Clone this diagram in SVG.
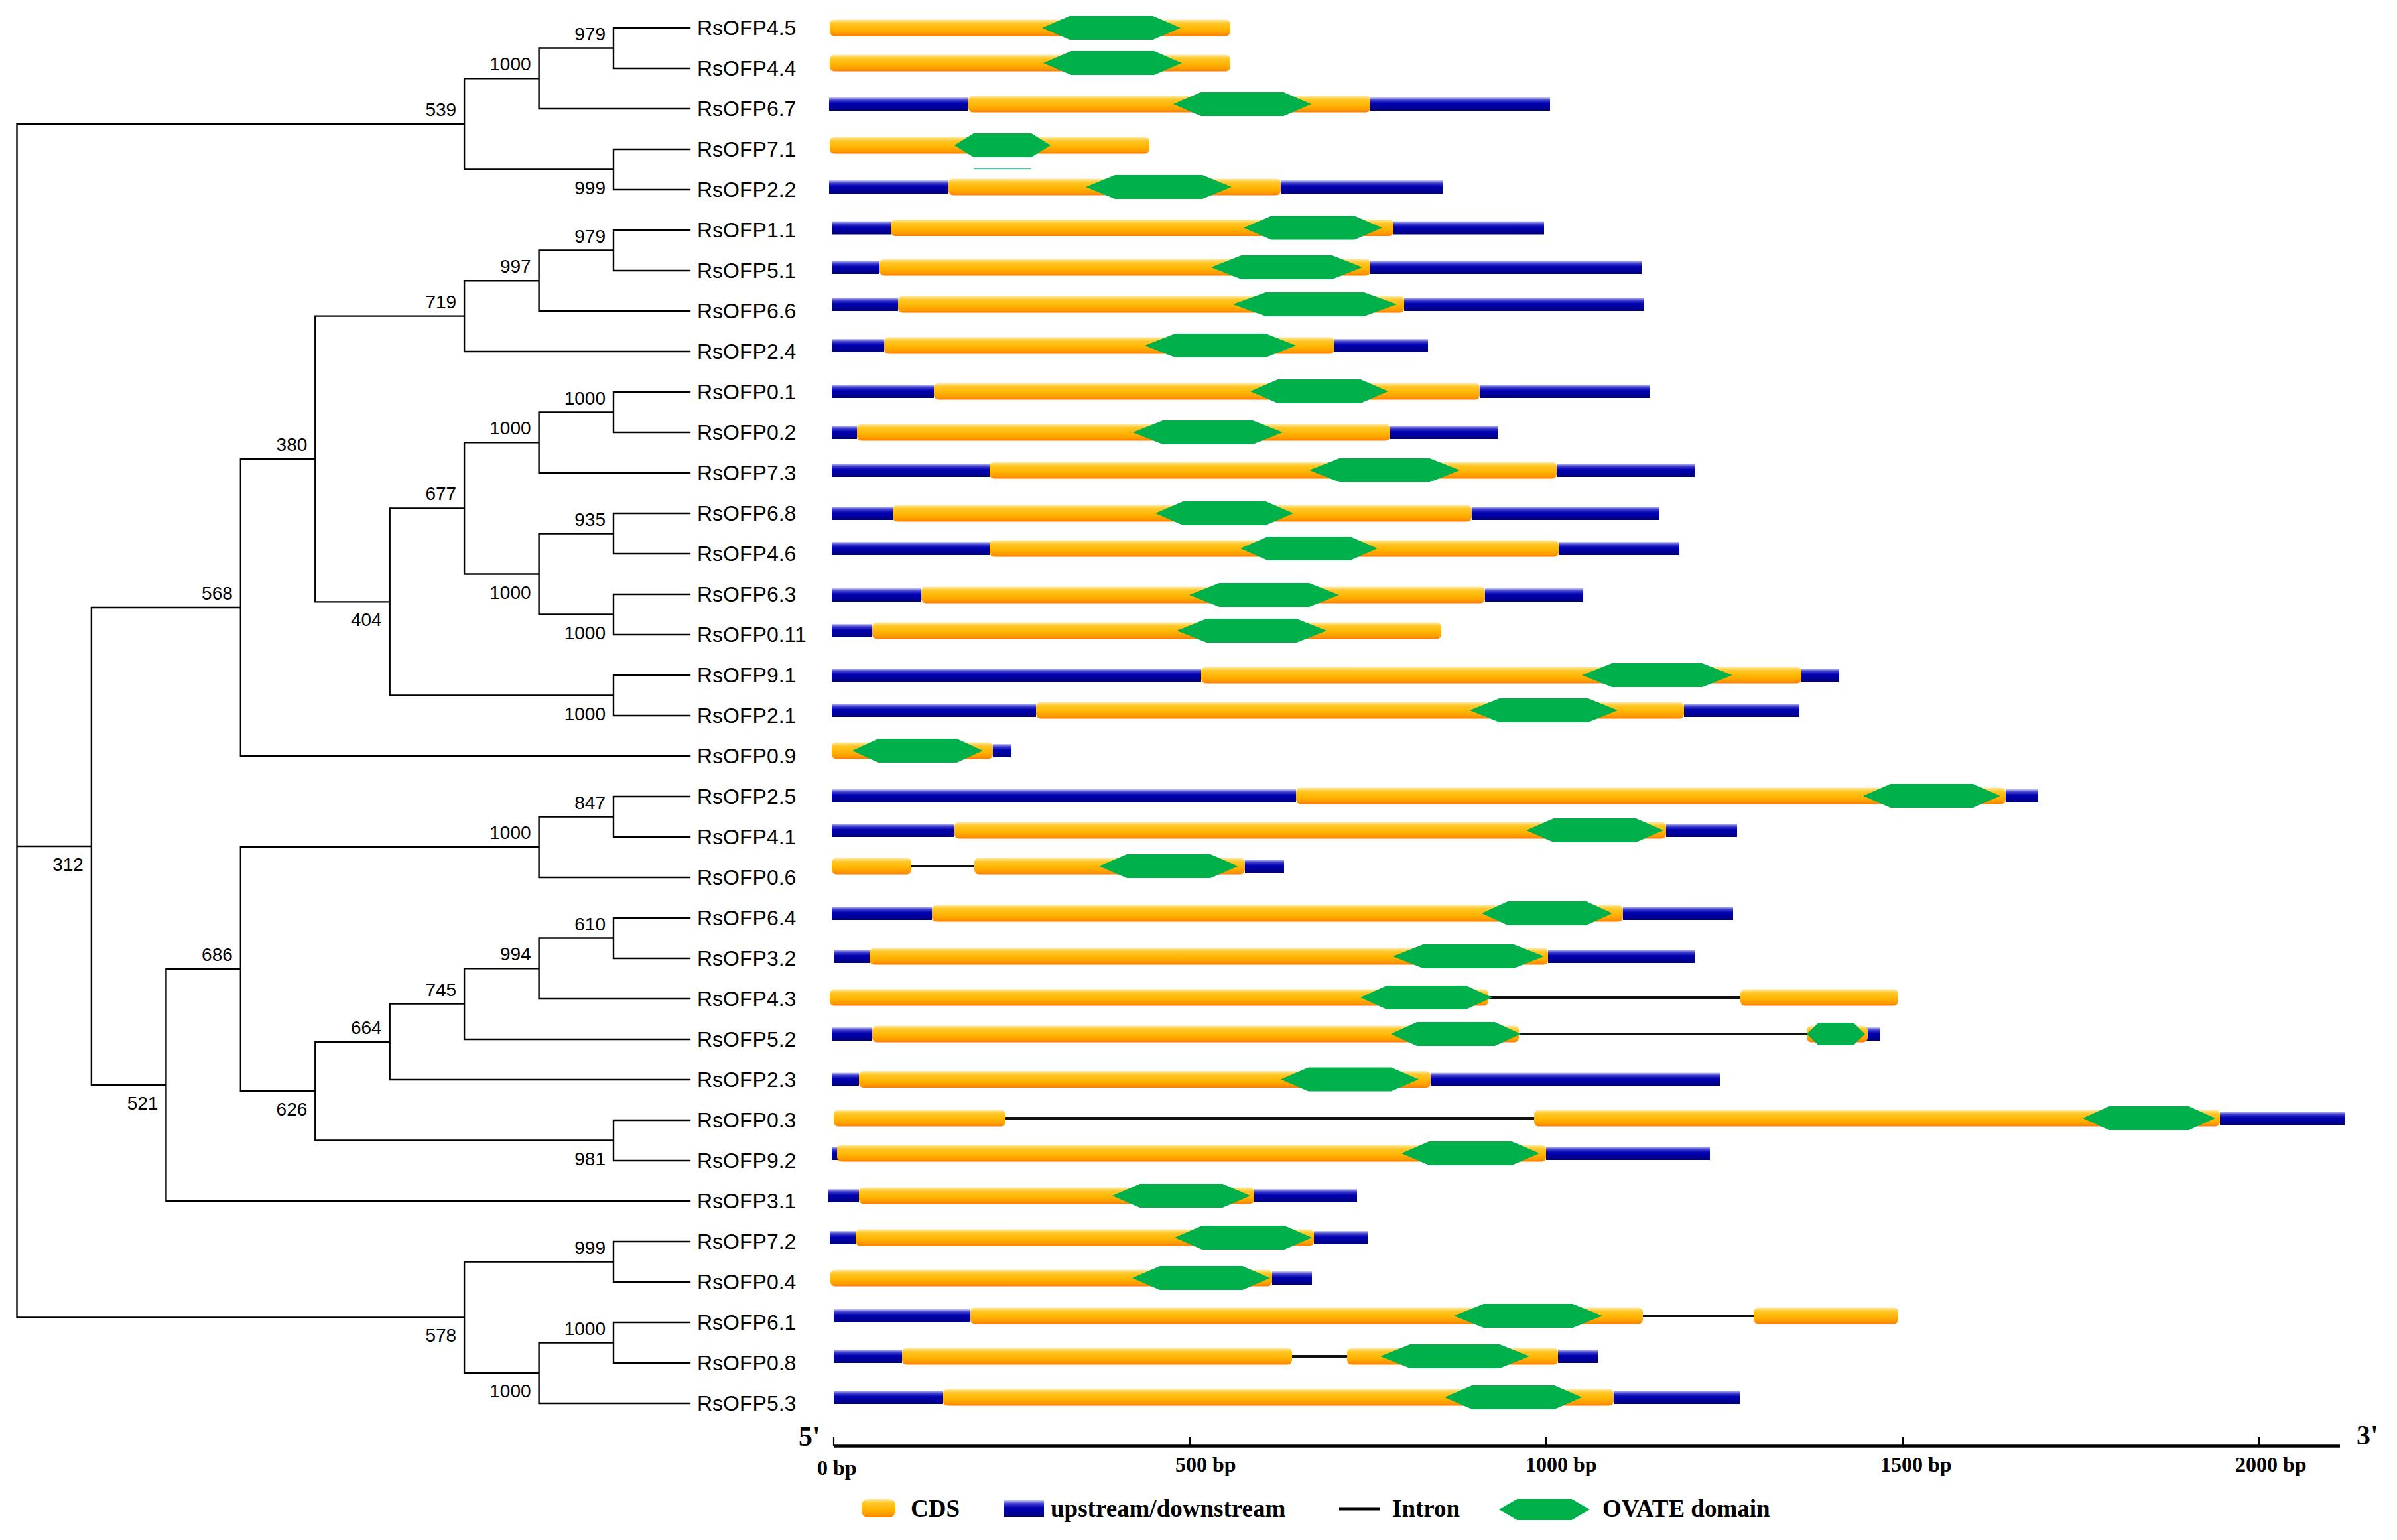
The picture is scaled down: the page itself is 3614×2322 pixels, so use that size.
<svg xmlns="http://www.w3.org/2000/svg" xmlns:xlink="http://www.w3.org/1999/xlink" width="3614" height="2322" viewBox="0 0 3614 2322">
<style>
.tree{stroke:#000;stroke-width:2.4;fill:none;stroke-linecap:square}
.lab{font-family:"Liberation Sans",Arial,sans-serif;font-size:32px;fill:#000}
.bs{font-family:"Liberation Sans",Arial,sans-serif;font-size:28px;fill:#000;text-anchor:end}
.cds{fill:url(#gC)}
.up{fill:url(#gB)}
.hx{fill:#00B04B}
.intr{stroke:#111;stroke-width:4}
.ser{font-family:"Liberation Serif","Times New Roman",serif;font-weight:bold;fill:#000}
.axl{font-size:32px}
.lg{font-size:37px}
</style>
<defs>
<linearGradient id="gC" x1="0" y1="0" x2="0" y2="1">
<stop offset="0" stop-color="#FFEAA8"/>
<stop offset="0.22" stop-color="#FFC828"/>
<stop offset="0.6" stop-color="#FFB300"/>
<stop offset="0.85" stop-color="#FF9A00"/>
<stop offset="1" stop-color="#FF7A00"/>
</linearGradient>
<linearGradient id="gB" x1="0" y1="0" x2="0" y2="1">
<stop offset="0" stop-color="#C8C8F2"/>
<stop offset="0.2" stop-color="#4040D0"/>
<stop offset="0.45" stop-color="#0000B0"/>
<stop offset="0.75" stop-color="#00009A"/>
<stop offset="1" stop-color="#000075"/>
</linearGradient>
<polygon id="hex" points="0,0.5 0.2,0 0.8,0 1,0.5 0.8,1 0.2,1"/>
</defs>
<rect width="3614" height="2322" fill="#fff"/>

<g id="connectors">
<path class="tree" d="M25.5 186.9V1986.4M25.5 186.9H700.1M25.5 1276H137.9M25.5 1986.4H700.1
M700.1 118.25V255.5M700.1 118.25H812.6M700.1 255.5H925
M812.6 72.5V164M812.6 72.5H925M812.6 164H1040
M925 42V103M925 42H1040M925 103H1040
M925 225V286M925 225H1040M925 286H1040
M137.9 916V1636.1M137.9 916H362.8M137.9 1636.1H250.4
M362.8 692V1140M362.8 692H475.3M362.8 1140H1040
M475.3 476.6V907.4M475.3 476.6H700.1M475.3 907.4H587.7
M700.1 423.25V530M700.1 423.25H812.6M700.1 530H1040
M812.6 377.5V469M812.6 377.5H925M812.6 469H1040
M925 347V408M925 347H1040M925 408H1040
M587.7 766.4V1048.5M587.7 766.4H700.1M587.7 1048.5H925
M700.1 667.25V865.5M700.1 667.25H812.6M700.1 865.5H812.6
M812.6 621.5V713M812.6 621.5H925M812.6 713H1040
M925 591V652M925 591H1040M925 652H1040
M812.6 804.5V926.5M812.6 804.5H925M812.6 926.5H925
M925 774V835M925 774H1040M925 835H1040
M925 896V957M925 896H1040M925 957H1040
M925 1018V1079M925 1018H1040M925 1079H1040
M250.4 1461.2V1811M250.4 1461.2H362.8M250.4 1811H1040
M362.8 1277.25V1645.2M362.8 1277.25H812.6M362.8 1645.2H475.3
M812.6 1231.5V1323M812.6 1231.5H925M812.6 1323H1040
M925 1201V1262M925 1201H1040M925 1262H1040
M475.3 1570.8V1719.5M475.3 1570.8H587.7M475.3 1719.5H925
M587.7 1513.6V1628M587.7 1513.6H700.1M587.7 1628H1040
M700.1 1460.25V1567M700.1 1460.25H812.6M700.1 1567H1040
M812.6 1414.5V1506M812.6 1414.5H925M812.6 1506H1040
M925 1384V1445M925 1384H1040M925 1445H1040
M925 1689V1750M925 1689H1040M925 1750H1040
M700.1 1902.5V2070.25M700.1 1902.5H925M700.1 2070.25H812.6
M925 1872V1933M925 1872H1040M925 1933H1040
M812.6 2024.5V2116M812.6 2024.5H925M812.6 2116H1040
M925 1994V2055M925 1994H1040M925 2055H1040"/>
</g>

<g id="bootstrap">
<g id="n979a"><text class="bs" x="913" y="60.5">979</text></g>
<g id="n1000a"><text class="bs" x="800.6" y="106.25">1000</text></g>
<g id="n539"><text class="bs" x="688.1" y="174.9">539</text></g>
<g id="n999a"><text class="bs" x="913" y="292.5">999</text></g>
<g id="n312"><text class="bs" x="125.9" y="1313">312</text></g>
<g id="n568"><text class="bs" x="350.8" y="904">568</text></g>
<g id="n380"><text class="bs" x="463.3" y="680">380</text></g>
<g id="n719"><text class="bs" x="688.1" y="464.6">719</text></g>
<g id="n997"><text class="bs" x="800.6" y="411.25">997</text></g>
<g id="n979b"><text class="bs" x="913" y="365.5">979</text></g>
<g id="n404"><text class="bs" x="575.7" y="944.4">404</text></g>
<g id="n677"><text class="bs" x="688.1" y="754.4">677</text></g>
<g id="n1000d"><text class="bs" x="800.6" y="655.25">1000</text></g>
<g id="n1000c"><text class="bs" x="913" y="609.5">1000</text></g>
<g id="n1000f"><text class="bs" x="800.6" y="902.5">1000</text></g>
<g id="n935"><text class="bs" x="913" y="792.5">935</text></g>
<g id="n1000e"><text class="bs" x="913" y="963.5">1000</text></g>
<g id="n1000g"><text class="bs" x="913" y="1085.5">1000</text></g>
<g id="n521"><text class="bs" x="238.4" y="1673">521</text></g>
<g id="n686"><text class="bs" x="350.8" y="1449.2">686</text></g>
<g id="n1000h"><text class="bs" x="800.6" y="1265.25">1000</text></g>
<g id="n847"><text class="bs" x="913" y="1219.5">847</text></g>
<g id="n626"><text class="bs" x="463.3" y="1682">626</text></g>
<g id="n664"><text class="bs" x="575.7" y="1558.8">664</text></g>
<g id="n745"><text class="bs" x="688.1" y="1501.6">745</text></g>
<g id="n994"><text class="bs" x="800.6" y="1448.25">994</text></g>
<g id="n610"><text class="bs" x="913" y="1402.5">610</text></g>
<g id="n981"><text class="bs" x="913" y="1756.5">981</text></g>
<g id="n578"><text class="bs" x="688.1" y="2023.4">578</text></g>
<g id="n999b"><text class="bs" x="913" y="1890.5">999</text></g>
<g id="n1000j"><text class="bs" x="800.6" y="2107">1000</text></g>
<g id="n1000i"><text class="bs" x="913" y="2012.5">1000</text></g>
</g>

<g id="leaf-RsOFP4.5"><text class="lab" x="1051" y="53">RsOFP4.5</text>
<g transform="translate(0 42)"><rect class="cds" x="1251" y="-12.5" width="604" height="25" rx="7"/><use xlink:href="#hex" class="hx" transform="translate(1571 -18) scale(209 36)"/></g></g>
<g id="leaf-RsOFP4.4"><text class="lab" x="1051" y="114">RsOFP4.4</text>
<g transform="translate(0 95)"><rect class="cds" x="1251" y="-12.5" width="604" height="25" rx="7"/><use xlink:href="#hex" class="hx" transform="translate(1573 -18) scale(209 36)"/></g></g>
<g id="leaf-RsOFP6.7"><text class="lab" x="1051" y="175">RsOFP6.7</text>
<g transform="translate(0 157)"><rect class="up" x="1250" y="-10" width="210" height="20"/><rect class="up" x="2066" y="-10" width="271" height="20"/><rect class="cds" x="1460" y="-12.5" width="606" height="25" rx="7"/><use xlink:href="#hex" class="hx" transform="translate(1769 -18) scale(208 36)"/></g></g>
<g id="leaf-RsOFP7.1"><text class="lab" x="1051" y="236">RsOFP7.1</text>
<g transform="translate(0 219)"><rect class="cds" x="1251" y="-12.5" width="482" height="25" rx="7"/><use xlink:href="#hex" class="hx" transform="translate(1439 -18) scale(145 36)"/><line x1="1468" y1="35.5" x2="1555" y2="35.5" stroke="#4CC9B0" stroke-width="1.6"/></g></g>
<g id="leaf-RsOFP2.2"><text class="lab" x="1051" y="297">RsOFP2.2</text>
<g transform="translate(0 282)"><rect class="up" x="1250" y="-10" width="180" height="20"/><rect class="up" x="1931" y="-10" width="244" height="20"/><rect class="cds" x="1430" y="-12.5" width="501" height="25" rx="7"/><use xlink:href="#hex" class="hx" transform="translate(1637 -18) scale(220 36)"/></g></g>
<g id="leaf-RsOFP1.1"><text class="lab" x="1051" y="358">RsOFP1.1</text>
<g transform="translate(0 343.5)"><rect class="up" x="1255" y="-10" width="88" height="20"/><rect class="up" x="2101" y="-10" width="227" height="20"/><rect class="cds" x="1343" y="-12.5" width="758" height="25" rx="7"/><use xlink:href="#hex" class="hx" transform="translate(1875 -18) scale(209 36)"/></g></g>
<g id="leaf-RsOFP5.1"><text class="lab" x="1051" y="419">RsOFP5.1</text>
<g transform="translate(0 403)"><rect class="up" x="1255" y="-10" width="71" height="20"/><rect class="up" x="2066" y="-10" width="409" height="20"/><rect class="cds" x="1326" y="-12.5" width="740" height="25" rx="7"/><use xlink:href="#hex" class="hx" transform="translate(1826 -18) scale(228 36)"/></g></g>
<g id="leaf-RsOFP6.6"><text class="lab" x="1051" y="480">RsOFP6.6</text>
<g transform="translate(0 459)"><rect class="up" x="1255" y="-10" width="99" height="20"/><rect class="up" x="2117" y="-10" width="362" height="20"/><rect class="cds" x="1354" y="-12.5" width="763" height="25" rx="7"/><use xlink:href="#hex" class="hx" transform="translate(1859 -18) scale(247 36)"/></g></g>
<g id="leaf-RsOFP2.4"><text class="lab" x="1051" y="541">RsOFP2.4</text>
<g transform="translate(0 521)"><rect class="up" x="1255" y="-10" width="78" height="20"/><rect class="up" x="2012" y="-10" width="141" height="20"/><rect class="cds" x="1333" y="-12.5" width="679" height="25" rx="7"/><use xlink:href="#hex" class="hx" transform="translate(1726 -18) scale(228 36)"/></g></g>
<g id="leaf-RsOFP0.1"><text class="lab" x="1051" y="602">RsOFP0.1</text>
<g transform="translate(0 590)"><rect class="up" x="1254" y="-10" width="154" height="20"/><rect class="up" x="2231" y="-10" width="257" height="20"/><rect class="cds" x="1408" y="-12.5" width="823" height="25" rx="7"/><use xlink:href="#hex" class="hx" transform="translate(1885 -18) scale(208 36)"/></g></g>
<g id="leaf-RsOFP0.2"><text class="lab" x="1051" y="663">RsOFP0.2</text>
<g transform="translate(0 652)"><rect class="up" x="1254" y="-10" width="38" height="20"/><rect class="up" x="2096" y="-10" width="163" height="20"/><rect class="cds" x="1292" y="-12.5" width="804" height="25" rx="7"/><use xlink:href="#hex" class="hx" transform="translate(1708 -18) scale(226 36)"/></g></g>
<g id="leaf-RsOFP7.3"><text class="lab" x="1051" y="724">RsOFP7.3</text>
<g transform="translate(0 709)"><rect class="up" x="1254" y="-10" width="238" height="20"/><rect class="up" x="2347" y="-10" width="208" height="20"/><rect class="cds" x="1492" y="-12.5" width="855" height="25" rx="7"/><use xlink:href="#hex" class="hx" transform="translate(1974 -18) scale(227 36)"/></g></g>
<g id="leaf-RsOFP6.8"><text class="lab" x="1051" y="785">RsOFP6.8</text>
<g transform="translate(0 774)"><rect class="up" x="1254" y="-10" width="92" height="20"/><rect class="up" x="2219" y="-10" width="283" height="20"/><rect class="cds" x="1346" y="-12.5" width="873" height="25" rx="7"/><use xlink:href="#hex" class="hx" transform="translate(1742 -18) scale(208 36)"/></g></g>
<g id="leaf-RsOFP4.6"><text class="lab" x="1051" y="846">RsOFP4.6</text>
<g transform="translate(0 827)"><rect class="up" x="1254" y="-10" width="238" height="20"/><rect class="up" x="2350" y="-10" width="182" height="20"/><rect class="cds" x="1492" y="-12.5" width="858" height="25" rx="7"/><use xlink:href="#hex" class="hx" transform="translate(1870 -18) scale(207 36)"/></g></g>
<g id="leaf-RsOFP6.3"><text class="lab" x="1051" y="907">RsOFP6.3</text>
<g transform="translate(0 897)"><rect class="up" x="1254" y="-10" width="135" height="20"/><rect class="up" x="2239" y="-10" width="148" height="20"/><rect class="cds" x="1389" y="-12.5" width="850" height="25" rx="7"/><use xlink:href="#hex" class="hx" transform="translate(1793 -18) scale(226 36)"/></g></g>
<g id="leaf-RsOFP0.11"><text class="lab" x="1051" y="968">RsOFP0.11</text>
<g transform="translate(0 951)"><rect class="up" x="1254" y="-10" width="61" height="20"/><rect class="cds" x="1315" y="-12.5" width="858" height="25" rx="7"/><use xlink:href="#hex" class="hx" transform="translate(1774 -18) scale(226 36)"/></g></g>
<g id="leaf-RsOFP9.1"><text class="lab" x="1051" y="1029">RsOFP9.1</text>
<g transform="translate(0 1018)"><rect class="up" x="1254" y="-10" width="557" height="20"/><rect class="up" x="2716" y="-10" width="57" height="20"/><rect class="cds" x="1811" y="-12.5" width="905" height="25" rx="7"/><use xlink:href="#hex" class="hx" transform="translate(2385 -18) scale(227 36)"/></g></g>
<g id="leaf-RsOFP2.1"><text class="lab" x="1051" y="1090">RsOFP2.1</text>
<g transform="translate(0 1071)"><rect class="up" x="1254" y="-10" width="308" height="20"/><rect class="up" x="2539" y="-10" width="174" height="20"/><rect class="cds" x="1562" y="-12.5" width="977" height="25" rx="7"/><use xlink:href="#hex" class="hx" transform="translate(2216 -18) scale(223 36)"/></g></g>
<g id="leaf-RsOFP0.9"><text class="lab" x="1051" y="1151">RsOFP0.9</text>
<g transform="translate(0 1132)"><rect class="up" x="1497" y="-10" width="28" height="20"/><rect class="cds" x="1254" y="-12.5" width="243" height="25" rx="7"/><use xlink:href="#hex" class="hx" transform="translate(1285 -18) scale(197 36)"/></g></g>
<g id="leaf-RsOFP2.5"><text class="lab" x="1051" y="1212">RsOFP2.5</text>
<g transform="translate(0 1200)"><rect class="up" x="1254" y="-10" width="700" height="20"/><rect class="up" x="3024" y="-10" width="49" height="20"/><rect class="cds" x="1954" y="-12.5" width="1070" height="25" rx="7"/><use xlink:href="#hex" class="hx" transform="translate(2809 -18) scale(207 36)"/></g></g>
<g id="leaf-RsOFP4.1"><text class="lab" x="1051" y="1273">RsOFP4.1</text>
<g transform="translate(0 1252)"><rect class="up" x="1254" y="-10" width="185" height="20"/><rect class="up" x="2512" y="-10" width="107" height="20"/><rect class="cds" x="1439" y="-12.5" width="1073" height="25" rx="7"/><use xlink:href="#hex" class="hx" transform="translate(2301 -18) scale(207 36)"/></g></g>
<g id="leaf-RsOFP0.6"><text class="lab" x="1051" y="1334">RsOFP0.6</text>
<g transform="translate(0 1306)"><line class="intr" x1="1374" y1="0" x2="1469" y2="0"/><rect class="up" x="1877" y="-10" width="59" height="20"/><rect class="cds" x="1254" y="-12.5" width="120" height="25" rx="7"/><rect class="cds" x="1469" y="-12.5" width="408" height="25" rx="7"/><use xlink:href="#hex" class="hx" transform="translate(1657 -18) scale(210 36)"/></g></g>
<g id="leaf-RsOFP6.4"><text class="lab" x="1051" y="1395">RsOFP6.4</text>
<g transform="translate(0 1377)"><rect class="up" x="1254" y="-10" width="151" height="20"/><rect class="up" x="2447" y="-10" width="166" height="20"/><rect class="cds" x="1405" y="-12.5" width="1042" height="25" rx="7"/><use xlink:href="#hex" class="hx" transform="translate(2234 -18) scale(197 36)"/></g></g>
<g id="leaf-RsOFP3.2"><text class="lab" x="1051" y="1456">RsOFP3.2</text>
<g transform="translate(0 1442)"><rect class="up" x="1258" y="-10" width="53" height="20"/><rect class="up" x="2334" y="-10" width="221" height="20"/><rect class="cds" x="1311" y="-12.5" width="1023" height="25" rx="7"/><use xlink:href="#hex" class="hx" transform="translate(2100 -18) scale(228 36)"/></g></g>
<g id="leaf-RsOFP4.3"><text class="lab" x="1051" y="1517">RsOFP4.3</text>
<g transform="translate(0 1504)"><line class="intr" x1="2244" y1="0" x2="2624" y2="0"/><rect class="cds" x="1251" y="-12.5" width="993" height="25" rx="7"/><rect class="cds" x="2624" y="-12.5" width="238" height="25" rx="7"/><use xlink:href="#hex" class="hx" transform="translate(2051 -18) scale(199 36)"/></g></g>
<g id="leaf-RsOFP5.2"><text class="lab" x="1051" y="1578">RsOFP5.2</text>
<g transform="translate(0 1559)"><line class="intr" x1="2290" y1="0" x2="2724" y2="0"/><rect class="up" x="1254" y="-10" width="61" height="20"/><rect class="up" x="2814" y="-10" width="21" height="20"/><rect class="cds" x="1315" y="-12.5" width="975" height="25" rx="7"/><rect class="cds" x="2724" y="-12.5" width="92" height="25" rx="7"/><use xlink:href="#hex" class="hx" transform="translate(2097 -18) scale(196 36)"/><use xlink:href="#hex" class="hx" transform="translate(2724 -17) scale(88 34)"/></g></g>
<g id="leaf-RsOFP2.3"><text class="lab" x="1051" y="1639">RsOFP2.3</text>
<g transform="translate(0 1627.5)"><rect class="up" x="1254" y="-10" width="41" height="20"/><rect class="up" x="2157" y="-10" width="436" height="20"/><rect class="cds" x="1295" y="-12.5" width="862" height="25" rx="7"/><use xlink:href="#hex" class="hx" transform="translate(1931 -18) scale(208 36)"/></g></g>
<g id="leaf-RsOFP0.3"><text class="lab" x="1051" y="1700">RsOFP0.3</text>
<g transform="translate(0 1686)"><line class="intr" x1="1516" y1="0" x2="2313" y2="0"/><rect class="up" x="3347" y="-10" width="188" height="20"/><rect class="cds" x="1257" y="-12.5" width="259" height="25" rx="7"/><rect class="cds" x="2313" y="-12.5" width="1034" height="25" rx="7"/><use xlink:href="#hex" class="hx" transform="translate(3140 -18) scale(200 36)"/></g></g>
<g id="leaf-RsOFP9.2"><text class="lab" x="1051" y="1761">RsOFP9.2</text>
<g transform="translate(0 1739)"><rect class="up" x="1254" y="-10" width="10" height="20"/><rect class="up" x="2331" y="-10" width="247" height="20"/><rect class="cds" x="1262" y="-12.5" width="1069" height="25" rx="7"/><use xlink:href="#hex" class="hx" transform="translate(2113 -18) scale(208 36)"/></g></g>
<g id="leaf-RsOFP3.1"><text class="lab" x="1051" y="1822">RsOFP3.1</text>
<g transform="translate(0 1803)"><rect class="up" x="1249" y="-10" width="46" height="20"/><rect class="up" x="1891" y="-10" width="155" height="20"/><rect class="cds" x="1295" y="-12.5" width="596" height="25" rx="7"/><use xlink:href="#hex" class="hx" transform="translate(1677 -18) scale(208 36)"/></g></g>
<g id="leaf-RsOFP7.2"><text class="lab" x="1051" y="1883">RsOFP7.2</text>
<g transform="translate(0 1866)"><rect class="up" x="1251" y="-10" width="39" height="20"/><rect class="up" x="1981" y="-10" width="81" height="20"/><rect class="cds" x="1290" y="-12.5" width="691" height="25" rx="7"/><use xlink:href="#hex" class="hx" transform="translate(1771 -18) scale(207 36)"/></g></g>
<g id="leaf-RsOFP0.4"><text class="lab" x="1051" y="1944">RsOFP0.4</text>
<g transform="translate(0 1927)"><rect class="up" x="1918" y="-10" width="60" height="20"/><rect class="cds" x="1252" y="-12.5" width="666" height="25" rx="7"/><use xlink:href="#hex" class="hx" transform="translate(1707 -18) scale(208 36)"/></g></g>
<g id="leaf-RsOFP6.1"><text class="lab" x="1051" y="2005">RsOFP6.1</text>
<g transform="translate(0 1984)"><line class="intr" x1="2477" y1="0" x2="2644" y2="0"/><rect class="up" x="1257" y="-10" width="206" height="20"/><rect class="cds" x="1463" y="-12.5" width="1014" height="25" rx="7"/><rect class="cds" x="2644" y="-12.5" width="218" height="25" rx="7"/><use xlink:href="#hex" class="hx" transform="translate(2192 -18) scale(224 36)"/></g></g>
<g id="leaf-RsOFP0.8"><text class="lab" x="1051" y="2066">RsOFP0.8</text>
<g transform="translate(0 2045)"><line class="intr" x1="1948" y1="0" x2="2031" y2="0"/><rect class="up" x="1257" y="-10" width="103" height="20"/><rect class="up" x="2349" y="-10" width="60" height="20"/><rect class="cds" x="1360" y="-12.5" width="588" height="25" rx="7"/><rect class="cds" x="2031" y="-12.5" width="318" height="25" rx="7"/><use xlink:href="#hex" class="hx" transform="translate(2081 -18) scale(225 36)"/></g></g>
<g id="leaf-RsOFP5.3"><text class="lab" x="1051" y="2127">RsOFP5.3</text>
<g transform="translate(0 2107)"><rect class="up" x="1257" y="-10" width="165" height="20"/><rect class="up" x="2433" y="-10" width="190" height="20"/><rect class="cds" x="1422" y="-12.5" width="1011" height="25" rx="7"/><use xlink:href="#hex" class="hx" transform="translate(2178 -18) scale(207 36)"/></g></g>

<g id="axis">
<line x1="1257" y1="2180.5" x2="3528" y2="2180.5" stroke="#000" stroke-width="4.5"/>
<path d="M1257 2166V2180M1794 2166V2180M2331 2166V2180M2869 2166V2180M3406 2166V2180" stroke="#000" stroke-width="2.2"/>
<text class="ser" x="1204" y="2180" font-size="42">5'</text>
<text class="ser" x="3553" y="2178" font-size="42">3'</text>
<text class="ser axl" x="1232" y="2224">0 bp</text>
<text class="ser axl" x="1772" y="2219">500 bp</text>
<text class="ser axl" x="2300" y="2219">1000 bp</text>
<text class="ser axl" x="2835" y="2219">1500 bp</text>
<text class="ser axl" x="3370" y="2219">2000 bp</text>
</g>

<g id="legend">
<rect class="cds" x="1299" y="2260" width="51" height="28" rx="9"/>
<text class="ser lg" x="1373" y="2287">CDS</text>
<rect class="up" x="1514" y="2262" width="60" height="25"/>
<text class="ser lg" x="1584" y="2287">upstream/downstream</text>
<line x1="2019" y1="2275" x2="2081" y2="2275" stroke="#000" stroke-width="5"/>
<text class="ser lg" x="2099" y="2287">Intron</text>
<use xlink:href="#hex" class="hx" transform="translate(2260 2260) scale(137 32)"/>
<text class="ser lg" x="2416" y="2287">OVATE domain</text>
</g>
</svg>
